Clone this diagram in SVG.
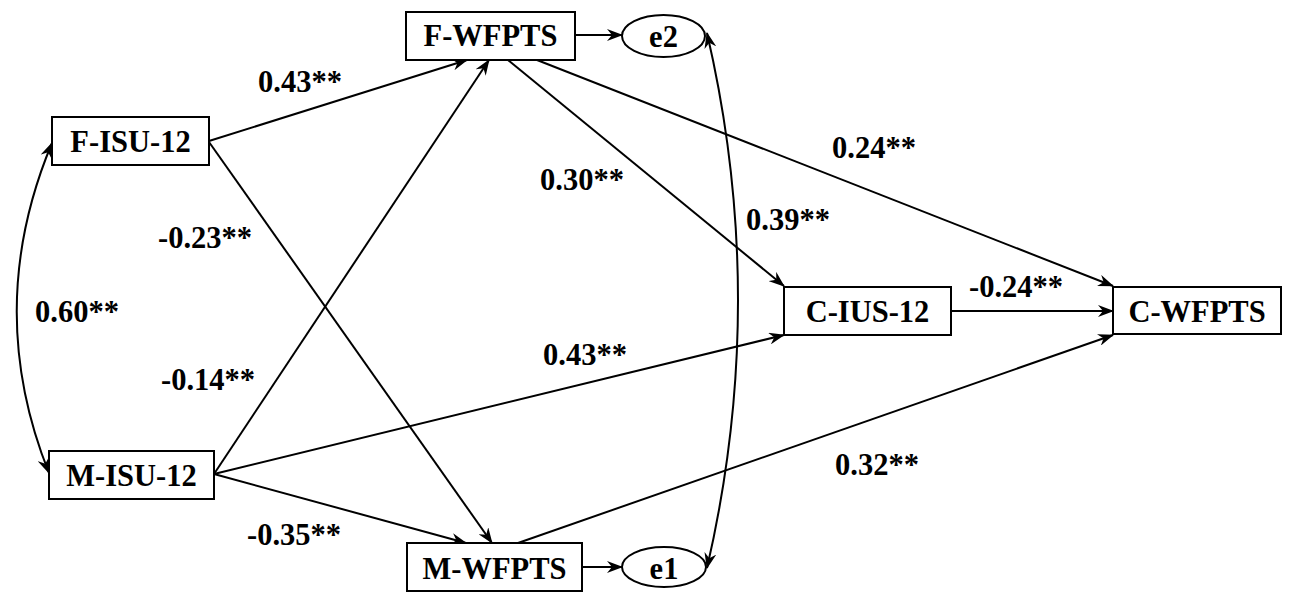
<svg xmlns="http://www.w3.org/2000/svg" width="1293" height="593" viewBox="0 0 1293 593" font-family="Liberation Serif, Times New Roman, serif">
<style>
.box{fill:#fff;stroke:#000;stroke-width:2}
text{font-family:"Liberation Serif",serif;font-weight:bold;font-size:30.5px;fill:#000}
.c{text-anchor:middle}
.ln{fill:none;stroke:#000;stroke-width:2}
</style>
<defs>
<marker id="ah" viewBox="0 0 16 12" refX="15" refY="6" markerWidth="16" markerHeight="12" markerUnits="userSpaceOnUse" orient="auto-start-reverse">
<path d="M0,0 L16,6 L0,12 L5,6 z" fill="#000"/>
</marker>
</defs>
<rect width="1293" height="593" fill="#fff"/>
<g id="connectors">
<line class="ln" x1="209" y1="141" x2="467" y2="60" marker-end="url(#ah)"/>
<line class="ln" x1="214" y1="474" x2="489" y2="60" marker-end="url(#ah)"/>
<line class="ln" x1="209" y1="142" x2="492" y2="543" marker-end="url(#ah)"/>
<line class="ln" x1="214" y1="474" x2="466" y2="543" marker-end="url(#ah)"/>
<line class="ln" x1="214" y1="474" x2="784" y2="335" marker-end="url(#ah)"/>
<line class="ln" x1="508" y1="60" x2="784" y2="286" marker-end="url(#ah)"/>
<line class="ln" x1="537" y1="60" x2="1113" y2="286" marker-end="url(#ah)"/>
<line class="ln" x1="518" y1="543" x2="1113" y2="335" marker-end="url(#ah)"/>
<line class="ln" x1="951" y1="311" x2="1113" y2="311" marker-end="url(#ah)"/>
<line class="ln" x1="575" y1="35" x2="622" y2="35" marker-end="url(#ah)"/>
<line class="ln" x1="582" y1="567" x2="622" y2="567" marker-end="url(#ah)"/>
<path class="ln" d="M52,143 Q-17,308 49,473" marker-start="url(#ah)" marker-end="url(#ah)"/>
<path class="ln" d="M707,33 Q769,300 707,568" marker-start="url(#ah)" marker-end="url(#ah)"/>
</g>
<g id="F-ISU-12"><rect class="box" x="52" y="117" width="157" height="48"/><text class="c" x="130.5" y="152" font-family="Liberation Serif">F-ISU-12</text></g>
<g id="M-ISU-12"><rect class="box" x="49" y="451" width="165" height="48"/><text class="c" x="131.5" y="486" font-family="Liberation Serif">M-ISU-12</text></g>
<g id="F-WFPTS"><rect class="box" x="406" y="12" width="169" height="48"/><text class="c" x="490.5" y="46" font-family="Liberation Serif">F-WFPTS</text></g>
<g id="M-WFPTS"><rect class="box" x="407" y="543" width="175" height="48"/><text class="c" x="494.5" y="579" font-family="Liberation Serif">M-WFPTS</text></g>
<g id="C-IUS-12"><rect class="box" x="784" y="287" width="167" height="48"/><text class="c" x="867.5" y="322" font-family="Liberation Serif">C-IUS-12</text></g>
<g id="C-WFPTS"><rect class="box" x="1113" y="287" width="168" height="47"/><text class="c" x="1197" y="322" font-family="Liberation Serif">C-WFPTS</text></g>
<g id="e2"><ellipse class="box" cx="663.5" cy="36" rx="41.5" ry="21"/><text class="c" x="663.5" y="47" font-family="Liberation Serif">e2</text></g>
<g id="e1"><ellipse class="box" cx="664" cy="567" rx="42" ry="20"/><text class="c" x="664" y="579" font-family="Liberation Serif">e1</text></g>
<g id="labels" font-family="Liberation Serif">
<text x="258" y="92">0.43**</text>
<text x="832" y="158">0.24**</text>
<text x="540" y="190">0.30**</text>
<text x="746" y="230">0.39**</text>
<text x="158" y="248">-0.23**</text>
<text x="35" y="322">0.60**</text>
<text x="969" y="297">-0.24**</text>
<text x="543" y="365">0.43**</text>
<text x="161" y="390">-0.14**</text>
<text x="835" y="475">0.32**</text>
<text x="247" y="545">-0.35**</text>
</g>
</svg>
